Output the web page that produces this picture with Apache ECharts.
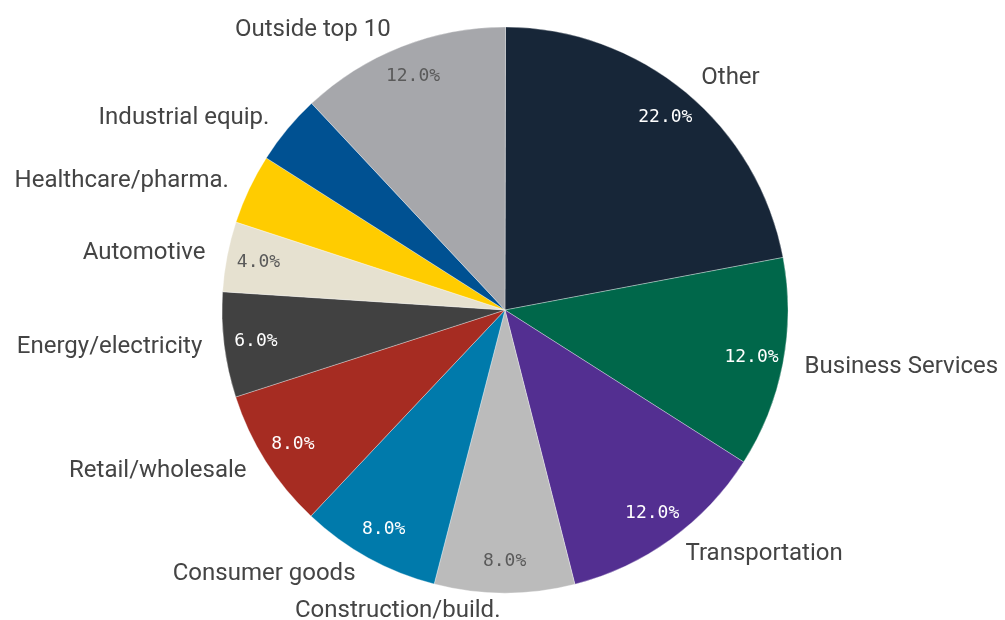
<!DOCTYPE html>
<html>
<head>
<meta charset="utf-8">
<script src="https://cdn.jsdelivr.net/npm/echarts@6/dist/echarts.min.js"></script>
<style>
html, body { margin: 0; padding: 0; background: #fff; }
#chart { width: 1005px; height: 620px; }
</style>
</head>
<body>
<div id="chart"></div>
<script>
// data
const categories = ['Other', 'Business Services', 'Transportation', 'Construction/build.', 'Consumer goods',
  'Retail/wholesale', 'Energy/electricity', 'Automotive', 'Healthcare/pharma.', 'Industrial equip.', 'Outside top 10']
const shares = [22, 12, 12, 8, 8, 8, 6, 4, 4, 4, 12]
// slices whose % is not printed in the source
const hiddenPct = ['Healthcare/pharma.', 'Industrial equip.']

// styles
const colors = ['#172638', '#00674a', '#532f91', '#bbbbbb', '#007aab', '#a62c22', '#414141', '#e6e1d0', '#ffcc00', '#005192', '#a6a7ab']
const darkText = ['Construction/build.', 'Automotive', 'Outside top 10']

const myChart = echarts.init(document.getElementById('chart'))

const pieData = categories.map((c, i) => ({
  name: c,
  value: shares[i],
  itemStyle: { color: colors[i] }
}))

const ringData = categories.map((c, i) => ({
  name: c,
  value: shares[i],
  label: {
    show: hiddenPct.indexOf(c) < 0,
    color: darkText.indexOf(c) >= 0 ? '#5a5a5a' : '#ffffff'
  }
}))

// a hair before 90 so the bottom label ("Construction/build.") counts as left side
const start = 89.9

const options = {
  animation: false,
  series: [
    {
      type: 'pie',
      center: [505, 310],
      radius: [0, 283],
      startAngle: start,
      avoidLabelOverlap: false,
      silent: true,
      itemStyle: { borderColor: 'rgba(255,255,255,0.55)', borderWidth: 0.6 },
      label: {
        show: true,
        position: 'outside',
        formatter: '{b}',
        fontFamily: 'Roboto',
        fontSize: 24,
        color: '#444444',
        distanceToLabelLine: 4
      },
      labelLine: { show: false, length: 18, length2: 0 },
      data: pieData
    },
    {
      // transparent ring just to place the % labels
      type: 'pie',
      center: [505, 310],
      radius: [213, 283],
      startAngle: start,
      avoidLabelOverlap: false,
      silent: true,
      itemStyle: { color: 'rgba(0,0,0,0)', borderWidth: 0 },
      label: {
        show: true,
        position: 'inside',
        formatter: p => p.value.toFixed(1) + '%',
        fontFamily: 'DejaVu Sans Mono',
        fontSize: 18
      },
      labelLine: { show: false },
      data: ringData
    }
  ]
}
myChart.setOption(options)
</script>
</body>
</html>
